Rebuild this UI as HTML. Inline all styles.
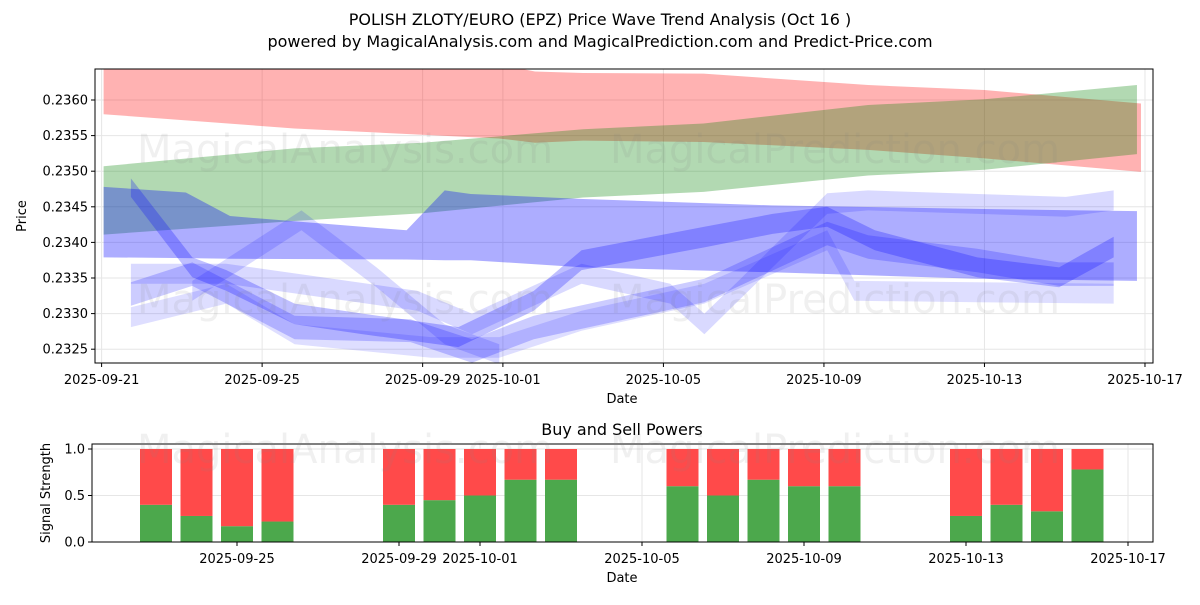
<!DOCTYPE html>
<html><head><meta charset="utf-8"><style>
body{margin:0;background:#fff;font-family:"Liberation Sans","DejaVu Sans",sans-serif}
svg text{font-family:"DejaVu Sans","Liberation Sans",sans-serif}
</style></head><body>
<svg id="c" width="1200" height="600" xmlns="http://www.w3.org/2000/svg">
<rect width="1200" height="600" fill="#fff"/>
<text x="600" y="25" font-size="16" text-anchor="middle">POLISH ZLOTY/EURO (EPZ) Price Wave Trend Analysis (Oct 16 )</text>
<text x="600" y="47" font-size="16" text-anchor="middle">powered by MagicalAnalysis.com and MagicalPrediction.com and Predict-Price.com</text>
<g id="topg"></g><g id="botg"></g>
</svg>
<script>
// top chart data: [day since 2025-09-21, upper, lower]
const redBand=[[0.05,0.2365,0.2358],[4.8,0.2365,0.2356],[9.9,0.2365,0.23546],[10.8,0.2364,0.2354],[12,0.23638,0.23543],[15,0.23637,0.23541],[19.1,0.23621,0.2353],[22,0.23614,0.23518],[25.9,0.23595,0.23499]];
const greenBand=[[0.05,0.23507,0.23411],[4.8,0.23532,0.2343],[8,0.2354,0.23441],[12,0.23559,0.23463],[15,0.23567,0.23471],[19.1,0.23593,0.23494],[22,0.23601,0.23502],[25.8,0.23621,0.23524]];
const blueWide=[[0.05,0.23478,0.23379],[2.1,0.2347,0.23378],[3.2,0.23437,0.23377],[7.6,0.23417,0.23376],[8.55,0.23473,0.23375],[9.2,0.23468,0.23375],[12,0.23461,0.23365],[16.7,0.23452,0.23358],[21.8,0.23447,0.23349],[25.8,0.23444,0.23346]];
const wave1=[[0.73,0.2349,0.23464],[2.26,0.23379,0.23351],[3.11,0.23361,0.23332],[4.81,0.23314,0.23285],[6.51,0.233,0.23271],[8.89,0.23281,0.23253],[10.77,0.23332,0.23304],[11.96,0.23389,0.23361],[15.02,0.23422,0.23393],[16.72,0.2344,0.23412],[18.08,0.2345,0.23422],[19.27,0.23417,0.23389],[21.82,0.23379,0.23351],[23.86,0.23365,0.23337],[25.22,0.23408,0.23379]];
const wave2=[[0.73,0.23344,0.23311],[2.26,0.23372,0.23339],[4.81,0.23297,0.23264],[7.7,0.23292,0.2326],[9.23,0.23264,0.23231],[10.77,0.23297,0.23264],[15.02,0.23349,0.23316],[18.08,0.23429,0.23396],[19.1,0.2341,0.23377],[21.82,0.23391,0.23358],[23.86,0.23372,0.23339],[25.22,0.23372,0.23339]];
const wave3=[[0.73,0.23309,0.23281],[3.11,0.23342,0.23314],[4.81,0.23285,0.23257],[8.21,0.23267,0.23238],[9.91,0.23267,0.23238],[11.96,0.23304,0.23276],[15.02,0.23342,0.23314],[18.08,0.23417,0.23389],[18.76,0.23346,0.23318],[21.82,0.23344,0.23316],[25.22,0.23342,0.23314]];
const wave4=[[2.26,0.23346,0.23318],[4.98,0.23445,0.23417],[6.85,0.23365,0.23337],[8.55,0.23285,0.23257],[9.91,0.23257,0.23229]];
const wave5=[[0.73,0.2337,0.23342],[3.11,0.2337,0.23342],[7.87,0.23332,0.23304],[9.23,0.233,0.23271],[11.96,0.2337,0.23342],[14.17,0.23342,0.23314],[15.02,0.233,0.23271],[15.87,0.23346,0.23318],[18.08,0.23469,0.2344],[19.1,0.23473,0.23445],[24.03,0.23464,0.23436],[25.22,0.23473,0.23445]];
const yTicks=[0.2325,0.2330,0.2335,0.2340,0.2345,0.2350,0.2355,0.2360];
const xTickDays=[0,4,8,10,14,18,22,26];
const xTickLabels=["2025-09-21","2025-09-25","2025-09-29","2025-10-01","2025-10-05","2025-10-09","2025-10-13","2025-10-17"];
// bottom chart data
const barDays=[2,3,4,5,8,9,10,11,12,15,16,17,18,19,22,23,24,25];
const buyVals=[0.4,0.28,0.17,0.22,0.4,0.45,0.5,0.67,0.67,0.6,0.5,0.67,0.6,0.6,0.28,0.4,0.33,0.78];
const bTicks=[0,0.5,1.0];
const bTickLabels=["0.0","0.5","1.0"];
const bxTickDays=[4,8,10,14,18,22,26];
const bxTickLabels=["2025-09-25","2025-09-29","2025-10-01","2025-10-05","2025-10-09","2025-10-13","2025-10-17"];

const NS="http://www.w3.org/2000/svg";
function mk(p,t,a){const e=document.createElementNS(NS,t);for(const k in a)e.setAttribute(k,a[k]);p.appendChild(e);return e;}
const T={x0:95,x1:1153,y0:69,y1:363};
const tx=d=>101.6+40.13*d, ty=v=>100+(0.2360-v)/0.001*71.2;
const topG=document.getElementById('topg');
const cp=mk(topG,'clipPath',{id:'cp'});mk(cp,'rect',{x:T.x0,y:T.y0,width:T.x1-T.x0,height:T.y1-T.y0});
yTicks.forEach(v=>{const g=mk(topG,'line',{x1:T.x0,x2:T.x1,y1:ty(v),y2:ty(v),stroke:'#e6e6e6'});});
xTickDays.forEach(d=>{const g=mk(topG,'line',{x1:tx(d),x2:tx(d),y1:T.y0,y2:T.y1,stroke:'#e6e6e6'});});
const wm=[[345,150,'MagicalAnalysis.com'],[835,150,'MagicalPrediction.com'],[345,300,'MagicalAnalysis.com'],[835,300,'MagicalPrediction.com'],[345,450,'MagicalAnalysis.com'],[835,450,'MagicalPrediction.com']];
const svgEl=document.getElementById('c');
function band(arr,fill,name){const up=arr.map(p=>tx(p[0])+','+ty(p[1]));const lo=arr.slice().reverse().map(p=>tx(p[0])+','+ty(p[2]));
const e=mk(topG,'polygon',{points:up.concat(lo).join(' '),fill:fill,'clip-path':'url(#cp)'});}
band(redBand,'rgba(255,0,0,0.3)','red-band');
band(greenBand,'rgba(0,128,0,0.3)','green-band');
band(blueWide,'rgba(0,0,255,0.32)','blue-band-wide');
band(wave1,'rgba(0,0,255,0.25)','blue-wave-1');
band(wave2,'rgba(0,0,255,0.2)','blue-wave-2');
band(wave3,'rgba(0,0,255,0.13)','blue-wave-3');
band(wave4,'rgba(0,0,255,0.15)','blue-wave-4');
band(wave5,'rgba(0,0,255,0.15)','blue-wave-5');
mk(topG,'rect',{x:T.x0,y:T.y0,width:T.x1-T.x0,height:T.y1-T.y0,fill:'none',stroke:'#000'});
yTicks.forEach(v=>{mk(topG,'line',{x1:T.x0-4,x2:T.x0,y1:ty(v),y2:ty(v),stroke:'#000'});const t=mk(topG,'text',{x:T.x0-7,y:ty(v)+4.5,'font-size':13,'text-anchor':'end'});t.textContent=v.toFixed(4);});
xTickDays.forEach((d,i)=>{mk(topG,'line',{x1:tx(d),x2:tx(d),y1:T.y1,y2:T.y1+4,stroke:'#000'});const t=mk(topG,'text',{x:tx(d),y:T.y1+21,'font-size':13,'text-anchor':'middle'});t.textContent=xTickLabels[i];});
let lbl=mk(topG,'text',{x:622,y:403,'font-size':13,'text-anchor':'middle'});lbl.textContent='Date';
lbl=mk(topG,'text',{x:26,y:216,'font-size':13,'text-anchor':'middle',transform:'rotate(-90 26 216)'});lbl.textContent='Price';
// bottom
const B={x0:92,x1:1153,y0:444,y1:542};
const bx=d=>75+40.5*d, by=v=>542-93*v;
const botG=document.getElementById('botg');
bTicks.forEach(v=>{const g=mk(botG,'line',{x1:B.x0,x2:B.x1,y1:by(v),y2:by(v),stroke:'#e6e6e6'});});
bxTickDays.forEach(d=>{const g=mk(botG,'line',{x1:bx(d),x2:bx(d),y1:B.y0,y2:B.y1,stroke:'#e6e6e6'});});
barDays.forEach((d,i)=>{const x=bx(d)-16;
const g=mk(botG,'rect',{x:x,y:by(buyVals[i]),width:32,height:by(0)-by(buyVals[i]),fill:'#4ca84c'});
const r=mk(botG,'rect',{x:x,y:by(1),width:32,height:by(buyVals[i])-by(1),fill:'#ff4a4a'});});
mk(botG,'rect',{x:B.x0,y:B.y0,width:B.x1-B.x0,height:B.y1-B.y0,fill:'none',stroke:'#000'});
bTicks.forEach((v,i)=>{mk(botG,'line',{x1:B.x0-4,x2:B.x0,y1:by(v),y2:by(v),stroke:'#000'});const t=mk(botG,'text',{x:B.x0-7,y:by(v)+4.5,'font-size':13,'text-anchor':'end'});t.textContent=bTickLabels[i];});
bxTickDays.forEach((d,i)=>{mk(botG,'line',{x1:bx(d),x2:bx(d),y1:B.y1,y2:B.y1+4,stroke:'#000'});const t=mk(botG,'text',{x:bx(d),y:B.y1+21,'font-size':13,'text-anchor':'middle'});t.textContent=bxTickLabels[i];});
lbl=mk(botG,'text',{x:622,y:435,'font-size':16,'text-anchor':'middle'});lbl.textContent='Buy and Sell Powers';
lbl=mk(botG,'text',{x:622,y:582,'font-size':13,'text-anchor':'middle'});lbl.textContent='Date';
lbl=mk(botG,'text',{x:50,y:493,'font-size':13,'text-anchor':'middle',transform:'rotate(-90 50 493)'});lbl.textContent='Signal Strength';
wm.forEach(w=>{const e=mk(svgEl,'text',{x:w[0],y:w[1]+13,'font-size':40,'text-anchor':'middle',fill:'rgba(128,128,128,0.12)'});e.textContent=w[2];});
</script>
</body></html>
